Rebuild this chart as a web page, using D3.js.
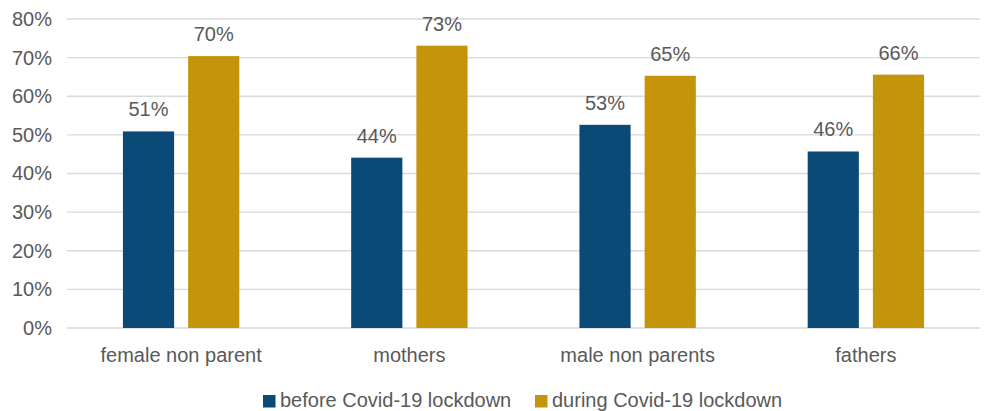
<!DOCTYPE html>
<html>
<head>
<meta charset="utf-8">
<script src="https://cdn.jsdelivr.net/npm/d3@7"></script>
<style>
  html, body { margin: 0; padding: 0; background: #fff; }
  svg { display: block; font-family: "Liberation Sans", Arial, sans-serif; }
</style>
</head>
<body>
<svg id="chart" width="987" height="411"></svg>
<script>
// Groups along the x axis
const categories = ["female non parent", "mothers", "male non parents", "fathers"];
// Share of respondents, one array per period
const seriesNames = ["before Covid-19 lockdown", "during Covid-19 lockdown"];
const beforeValues = [0.509, 0.441, 0.526, 0.457];
const duringValues = [0.704, 0.731, 0.653, 0.656];
const yTicks = [0, 0.1, 0.2, 0.3, 0.4, 0.5, 0.6, 0.7, 0.8];
const colors = ["#0b4a76", "#c4950a"];

const svg = d3.select("#chart");
const margin = { top: 19, right: 7, bottom: 83, left: 67 };
const width = 987 - margin.left - margin.right;
const height = 411 - margin.top - margin.bottom;
const textColor = "#595959";
const fontFamily = "'Liberation Sans', Arial, sans-serif";

const g = svg.append("g").attr("transform", `translate(${margin.left},${margin.top})`);

const y = d3.scaleLinear().domain([0, 0.8]).range([height, 0]);
const x0 = d3.scaleBand().domain(categories).range([0, width])
  .paddingInner(0.49).paddingOuter(0.245);
const x1 = d3.scaleBand().domain(seriesNames).range([0, x0.bandwidth()])
  .paddingInner(0.215).paddingOuter(0);

// Horizontal gridlines
g.append("g")
  .selectAll("line")
  .data(yTicks)
  .join("line")
  .attr("x1", 0).attr("x2", width)
  .attr("y1", d => y(d)).attr("y2", d => y(d))
  .attr("stroke", "#d9d9d9").attr("stroke-width", 1.3);

// Y axis labels
const yAxis = g.append("g")
  .call(d3.axisLeft(y).tickValues(yTicks).tickFormat(d3.format(".0%")).tickSize(0).tickPadding(15));
yAxis.select(".domain").remove();
yAxis.selectAll("text")
  .attr("fill", textColor).style("font-size", "20px")
  .style("font-family", fontFamily);

// X axis labels
const xAxis = g.append("g")
  .attr("transform", `translate(0,${height})`)
  .call(d3.axisBottom(x0).tickSize(0).tickPadding(20));
xAxis.select(".domain").remove();
xAxis.selectAll("text")
  .attr("fill", textColor).style("font-size", "20px")
  .style("font-family", fontFamily);

const rows = categories.map((c, i) => ({
  category: c,
  values: [
    { series: seriesNames[0], value: beforeValues[i], color: colors[0] },
    { series: seriesNames[1], value: duringValues[i], color: colors[1] }
  ]
}));

const groups = g.append("g")
  .selectAll("g")
  .data(rows)
  .join("g")
  .attr("transform", d => `translate(${x0(d.category)},0)`);

groups.selectAll("rect")
  .data(d => d.values)
  .join("rect")
  .attr("x", d => x1(d.series))
  .attr("width", x1.bandwidth())
  .attr("y", d => y(d.value))
  .attr("height", d => y(0) - y(d.value))
  .attr("fill", d => d.color);

groups.selectAll("text.value")
  .data(d => d.values)
  .join("text")
  .attr("class", "value")
  .attr("x", d => x1(d.series) + x1.bandwidth() / 2)
  .attr("y", d => y(d.value) - 15)
  .attr("text-anchor", "middle")
  .attr("fill", textColor)
  .style("font-size", "20px")
  .text(d => d3.format(".0%")(d.value));

// Legend
const legend = svg.append("g").attr("transform", "translate(263,395)");
const legendOffsets = [0, 272];
seriesNames.forEach((name, i) => {
  const item = legend.append("g").attr("transform", `translate(${legendOffsets[i]},0)`);
  item.append("rect").attr("width", 12.5).attr("height", 12.5).attr("fill", colors[i]);
  item.append("text")
    .attr("x", 17).attr("y", 12)
    .attr("fill", textColor)
    .style("font-size", "20px")
    .text(name);
});
</script>
</body>
</html>
